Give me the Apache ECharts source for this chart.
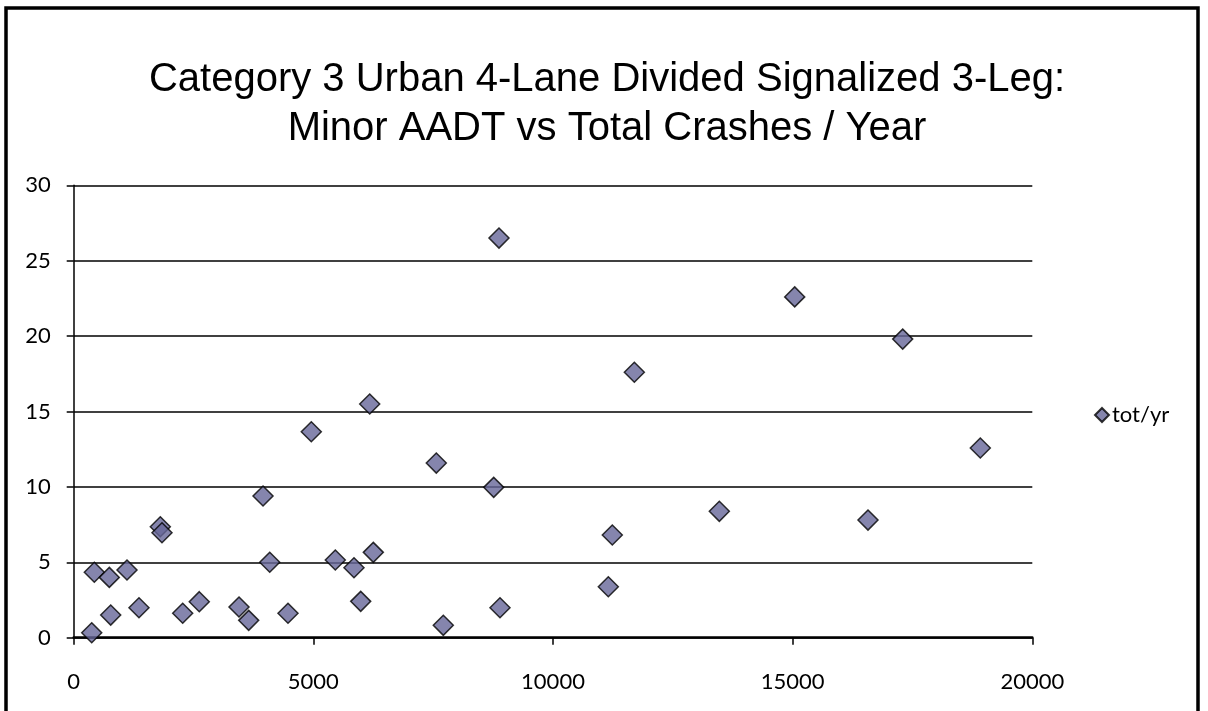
<!DOCTYPE html>
<html>
<head>
<meta charset="utf-8">
<script src="https://cdn.jsdelivr.net/npm/echarts@6/dist/echarts.min.js"></script>
<style>
html,body{margin:0;padding:0;background:#fff;}
#chart{width:1208px;height:711px;}
</style>
</head>
<body>
<div id="chart"></div>
<script>
// Minor AADT (x) and total crashes per year (y)
const minorAADT = [376, 430, 743, 772, 1112, 1362, 1807, 1842, 2274, 2620,
  3449, 3651, 3950, 4090, 4471, 4957, 5458, 5848, 5988, 6176, 6251,
  7565, 7711, 8763, 8873, 8894, 11154, 11237, 11697, 13470, 15043,
  16572, 17296, 18915];
const totPerYear = [0.33, 4.34, 4.0, 1.5, 4.49, 1.99, 7.36, 6.96, 1.62, 2.39,
  2.04, 1.15, 9.40, 5.0, 1.62, 13.66, 5.15, 4.64, 2.41, 15.5, 5.66,
  11.58, 0.82, 9.97, 26.5, 1.99, 3.38, 6.81, 17.6, 8.38, 22.6,
  7.8, 19.8, 12.58];
const seriesName = 'tot/yr';
const titleLines = ['Category 3 Urban 4-Lane Divided Signalized 3-Leg:', 'Minor AADT vs Total Crashes / Year'];
const xTicks = [0, 5000, 10000, 15000, 20000];
const yTicks = [0, 5, 10, 15, 20, 25, 30];

const points = minorAADT.map((x, i) => [x, totPerYear[i]]);
const labelFont = 'Lato, "Open Sans", sans-serif';

const chart = echarts.init(document.getElementById('chart'), null, {renderer: 'canvas'});
chart.setOption({
  backgroundColor: '#ffffff',
  animation: false,
  title: {
    text: titleLines.join('\n'),
    left: 602,
    top: 50,
    textAlign: 'center',
    textStyle: {
      fontFamily: '"Liberation Sans", Arial, sans-serif',
      fontSize: 40,
      fontWeight: 'normal',
      color: '#000',
      lineHeight: 49
    }
  },
  graphic: [{
    type: 'rect',
    shape: {x: 6, y: 8, width: 1192, height: 800},
    style: {fill: null, stroke: '#000', lineWidth: 3.5},
    silent: true,
    z: 100
  }],
  legend: {
    data: [{name: seriesName, icon: 'diamond'}],
    left: 1089,
    top: 399,
    orient: 'vertical',
    itemWidth: 14,
    itemHeight: 14,
    itemGap: 5,
    textStyle: {fontFamily: labelFont, fontSize: 22, color: '#000', padding: [0, 0, 0, -2]}
  },
  grid: {left: 73.7, right: 175.7, top: 185.3, bottom: 73.3, containLabel: false},
  xAxis: {
    type: 'value',
    min: xTicks[0],
    max: xTicks[xTicks.length - 1],
    interval: 5000,
    axisLine: {show: true, onZero: false, lineStyle: {color: '#000', width: 2.5}},
    axisTick: {show: true, inside: false, length: 7, lineStyle: {color: '#000', width: 1.5}},
    axisLabel: {margin: 33, fontFamily: labelFont, fontSize: 22, color: '#000', formatter: v => String(v)},
    splitLine: {show: false}
  },
  yAxis: {
    type: 'value',
    min: yTicks[0],
    max: yTicks[yTicks.length - 1],
    interval: 5,
    axisLine: {show: true, onZero: false, lineStyle: {color: '#000', width: 1.5}},
    axisTick: {show: true, inside: false, length: 7, lineStyle: {color: '#000', width: 1.5}},
    axisLabel: {margin: 23, fontFamily: labelFont, fontSize: 22, color: '#000', formatter: v => String(v)},
    splitLine: {show: true, lineStyle: {color: '#000', width: 1.5}}
  },
  series: [{
    name: seriesName,
    type: 'scatter',
    symbol: 'diamond',
    symbolSize: 20,
    data: points,
    itemStyle: {color: '#666699', borderColor: '#000', borderWidth: 1.5},
    emphasis: {disabled: true}
  }]
});
</script>
</body>
</html>
